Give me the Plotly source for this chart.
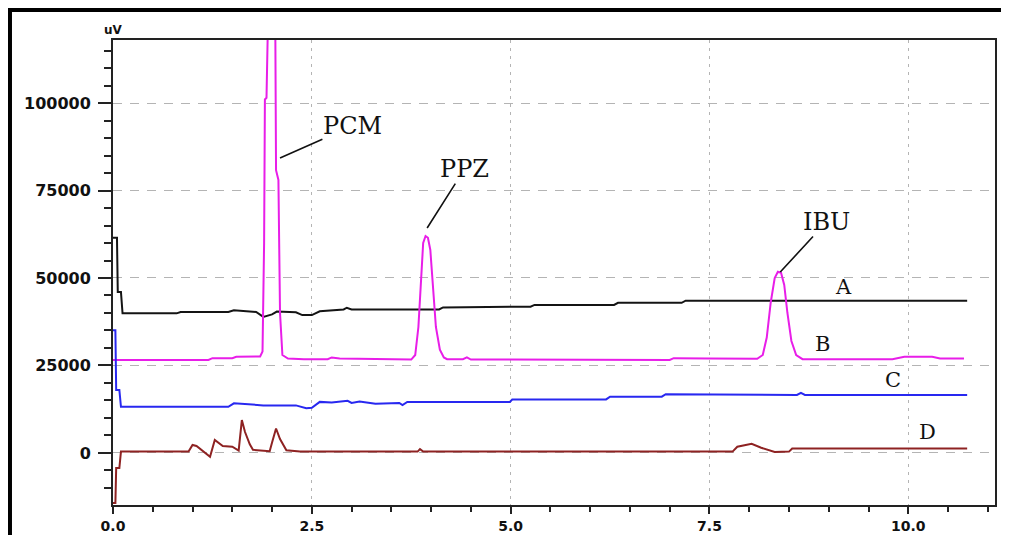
import plotly.graph_objects as go

# ---- data (retention time in min, signal in uV) ----
a_time = [0, 0.05, 0.06, 0.10, 0.12, 0.80, 0.85, 1.45, 1.52, 1.62, 1.80, 1.89, 2.00, 2.06, 2.30, 2.38, 2.50,
          2.60, 2.90, 2.94, 3.00, 4.10, 4.15, 5.25, 5.30, 6.30, 6.35, 7.15, 7.20, 10.74]
a_signal = [61500, 61500, 46000, 46000, 39900, 39900, 40300, 40300, 40800, 40600, 40300, 38900, 39600, 40400,
            40200, 39400, 39400, 40500, 41000, 41500, 41000, 41000, 41600, 41800, 42300, 42300, 42900, 42900,
            43500, 43500]

b_time = [0, 1.20, 1.25, 1.50, 1.55, 1.85, 1.88, 1.90, 1.91, 1.93, 1.95, 2.00, 2.04, 2.05, 2.08, 2.10, 2.13,
          2.20, 2.40, 2.70, 2.75, 2.85, 3.75, 3.80, 3.84, 3.87, 3.90, 3.93, 3.96, 3.99, 4.02, 4.06, 4.11, 4.16,
          4.20, 4.40, 4.45, 4.50, 7.00, 7.05, 7.50, 8.10, 8.17, 8.22, 8.27, 8.32, 8.36, 8.40, 8.44, 8.48, 8.53,
          8.59, 8.67, 9.80, 9.95, 10.30, 10.40, 10.70]
b_signal = [26600, 26600, 27100, 27100, 27500, 27600, 29000, 60000, 101000, 101500, 125000, 135000, 125000,
            80800, 78000, 40000, 28000, 27000, 26800, 26800, 27300, 27000, 26700, 28000, 36000, 50000, 60000,
            62000, 61500, 58000, 48000, 36000, 29500, 27300, 26800, 26800, 27300, 26700, 26600, 27100, 27000,
            26900, 28000, 33000, 43000, 50000, 51800, 51500, 48000, 40000, 32000, 28000, 26800, 26800, 27500,
            27500, 27000, 27000]

c_time = [0, 0.03, 0.04, 0.08, 0.10, 1.45, 1.52, 1.70, 1.89, 2.30, 2.43, 2.50, 2.60, 2.75, 2.95, 3.00, 3.10,
          3.30, 3.60, 3.64, 3.70, 4.99, 5.02, 6.20, 6.25, 6.90, 6.95, 8.60, 8.65, 8.70, 10.74]
c_signal = [35100, 35100, 18000, 18000, 13200, 13200, 14200, 14000, 13600, 13600, 12800, 12900, 14600, 14400,
            14900, 14300, 14700, 14100, 14300, 13700, 14600, 14600, 15300, 15300, 16100, 16100, 16800, 16600,
            17200, 16600, 16600]

d_time = [0, 0.03, 0.04, 0.08, 0.10, 0.95, 1.00, 1.05, 1.22, 1.28, 1.38, 1.50, 1.58, 1.62, 1.66, 1.72, 1.76,
          1.97, 2.00, 2.05, 2.10, 2.18, 2.35, 3.83, 3.86, 3.90, 7.79, 7.85, 8.03, 8.15, 8.32, 8.50, 8.54, 10.74]
d_signal = [-14300, -14300, -4300, -4300, 400, 400, 2300, 2000, -1100, 3700, 2000, 1800, 700, 9400, 6000, 2500,
            900, 500, 3000, 7000, 4000, 800, 400, 400, 1100, 400, 400, 1800, 2600, 1500, 300, 400, 1300, 1300]

trace_names = ["A", "B", "C", "D"]
trace_colors = ["#141414", "#e81ee8", "#2828f0", "#8e2222"]

x_tickvals = [0, 2.5, 5, 7.5, 10]
x_ticktext = ["0.0", "2.5", "5.0", "7.5", "10.0"]
y_tickvals = [0, 25000, 50000, 75000, 100000]
y_ticktext = ["0", "25000", "50000", "75000", "100000"]

# peak labels: (text, peak x, peak y, label x, label y)
peak_labels = [("PCM", 2.10, 84300, 3.01, 93400),
               ("PPZ", 3.95, 64300, 4.42, 81100),
               ("IBU", 8.39, 51700, 8.97, 66000)]
# trace letters: (text, x, y)
trace_letters = [("A", 9.18, 47400), ("B", 8.92, 31100), ("C", 9.81, 20900), ("D", 10.24, 6000)]

fig = go.Figure()
for name, xs, ys, col in zip(trace_names, [a_time, b_time, c_time, d_time],
                             [a_signal, b_signal, c_signal, d_signal], trace_colors):
    fig.add_trace(go.Scatter(x=xs, y=ys, mode="lines", name=name,
                             line=dict(color=col, width=2), hoverinfo="skip"))

label_font = dict(family="DejaVu Serif", size=24, color="#111111")
for text, px, py, lx, ly in peak_labels:
    fig.add_annotation(x=px, y=py, ax=lx, ay=ly, axref="x", ayref="y", xref="x", yref="y",
                       text=text, showarrow=True, arrowhead=0, arrowwidth=1.6,
                       arrowcolor="#111111", font=label_font, borderpad=0)
for text, lx, ly in trace_letters:
    fig.add_annotation(x=lx, y=ly, xref="x", yref="y", text=text, showarrow=False,
                       font=dict(family="DejaVu Serif", size=21, color="#111111"))

fig.add_annotation(x=0, y=1.022, xref="paper", yref="paper", text="uV", showarrow=False,
                   xanchor="center", yanchor="middle",
                   font=dict(family="DejaVu Sans", size=12, color="#111111", weight="bold"))

# outer black frame
fig.add_shape(type="rect", xref="paper", yref="paper", x0=-0.1168, x1=1.03, y0=-0.09, y1=1.0645,
              line=dict(color="black", width=4), fillcolor="rgba(0,0,0,0)", layer="above")

xtickfont = dict(family="DejaVu Sans", size=14, color="#111111", weight="bold")
ytickfont = dict(family="DejaVu Sans", size=16, color="#111111", weight="bold")
fig.update_xaxes(range=[0, 11.09], tickvals=x_tickvals, ticktext=x_ticktext, ticks="outside",
                 ticklen=7, tickwidth=2, tickcolor="#222222", showline=True, linewidth=2,
                 linecolor="#222222", mirror=True, showgrid=True, gridcolor="#b4b4b4",
                 gridwidth=1, griddash="3px,5px", zeroline=False, tickfont=xtickfont,
                 automargin=False, ticklabelstandoff=0,
                 minor=dict(dtick=0.5, tick0=0, ticks="outside", ticklen=5, tickwidth=2,
                            tickcolor="#222222", showgrid=False))
fig.update_yaxes(range=[-14860, 118000], tickvals=y_tickvals, ticktext=y_ticktext, ticks="outside",
                 ticklen=13, tickwidth=2, tickcolor="#222222", showline=True, linewidth=2,
                 linecolor="#222222", mirror=True, showgrid=True, gridcolor="#b4b4b4",
                 gridwidth=1, griddash="9px,8px", zeroline=False, tickfont=ytickfont,
                 ticklabelstandoff=4, automargin=False,
                 minor=dict(dtick=5000, tick0=0, ticks="outside", ticklen=7, tickwidth=2,
                            tickcolor="#222222", showgrid=False))

fig.update_layout(width=1001, height=527, margin=dict(l=105, r=14, t=32, b=30),
                  paper_bgcolor="white", plot_bgcolor="white", showlegend=False)

fig.write_html("out.html")
